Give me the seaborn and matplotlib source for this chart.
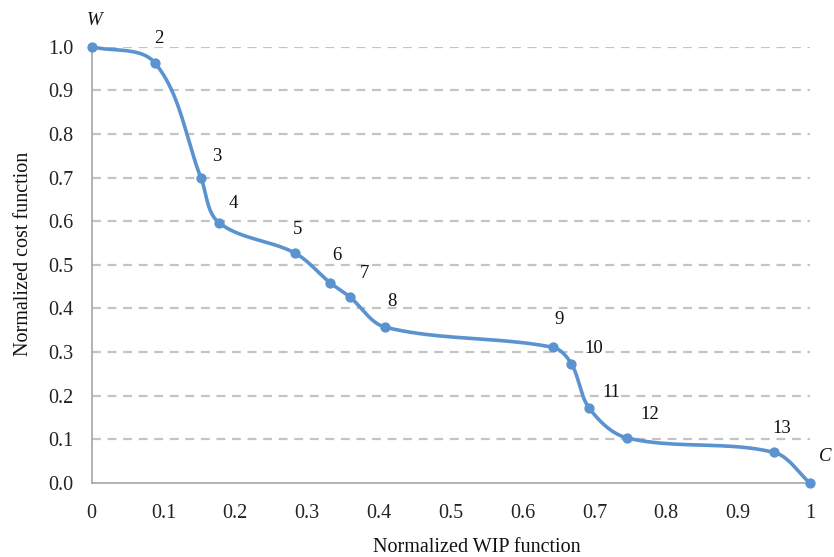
import numpy as np
import pandas as pd
import matplotlib
matplotlib.use("Agg")
import matplotlib.pyplot as plt
import seaborn as sns

# data
wip = [0.0, 0.088, 0.152, 0.177, 0.283, 0.332, 0.359, 0.409, 0.642, 0.668, 0.693, 0.746, 0.950, 1.0]
cost = [1.0, 0.963, 0.700, 0.597, 0.527, 0.459, 0.427, 0.357, 0.311, 0.273, 0.171, 0.103, 0.070, 0.0]
labels = ["W", "2", "3", "4", "5", "6", "7", "8", "9", "10", "11", "12", "13", "C"]
label_dx = [3, 4, 16, 14, 3, 7, 15, 7, 6, 22, 22, 22, 8, 15]
label_dy = [-26, -24, -21, -19, -24, -27, -23, -26, -28, -15, -16, -23, -24, -26]
x_ticks = [0, 0.1, 0.2, 0.3, 0.4, 0.5, 0.6, 0.7, 0.8, 0.9, 1]
x_ticklabels = ["0", "0.1", "0.2", "0.3", "0.4", "0.5", "0.6", "0.7", "0.8", "0.9", "1"]
y_ticks = [0.0, 0.1, 0.2, 0.3, 0.4, 0.5, 0.6, 0.7, 0.8, 0.9, 1.0]
y_ticklabels = ["0.0", "0.1", "0.2", "0.3", "0.4", "0.5", "0.6", "0.7", "0.8", "0.9", "1.0"]

sns.set_theme(style="white")
plt.rcParams["font.family"] = ["Liberation Serif", "DejaVu Serif"]

color = "#5b93d0"

# smoothed line through the points (bezier, tangent length scaled by segment length)
def smooth(xs, ys, sx=718.0, sy=436.0, k=0.33, n=40):
    P = np.column_stack([np.asarray(xs) * sx, np.asarray(ys) * sy])
    Pe = np.vstack([P[0], P, P[-1]])
    out = []
    for i in range(1, len(Pe) - 2):
        p0, p1, p2, p3 = Pe[i - 1], Pe[i], Pe[i + 1], Pe[i + 2]
        L = np.linalg.norm(p2 - p1)
        d1 = p2 - p0
        d2 = p3 - p1
        d1 = d1 / (np.linalg.norm(d1) or 1)
        d2 = d2 / (np.linalg.norm(d2) or 1)
        c1 = p1 + d1 * L * k
        c2 = p2 - d2 * L * k
        t = np.linspace(0, 1, n)[:, None]
        seg = ((1 - t) ** 3) * p1 + 3 * ((1 - t) ** 2) * t * c1 + 3 * (1 - t) * t ** 2 * c2 + t ** 3 * p2
        out.append(seg if i == 1 else seg[1:])
    C = np.vstack(out)
    return C[:, 0] / sx, C[:, 1] / sy

cx, cy = smooth(wip, cost)
curve_df = pd.DataFrame({"x": cx, "y": cy})
pts_df = pd.DataFrame({"x": wip, "y": cost, "label": labels})

fig = plt.figure(figsize=(8.34, 5.57), dpi=100)
ax = fig.add_axes([0.110, 0.133, 0.861, 0.783])

for yv in y_ticks[1:]:
    ax.axhline(yv, color="#c4c4c4", lw=1.6, ls=(0, (4, 3)), zorder=0)

sns.lineplot(data=curve_df, x="x", y="y", sort=False, estimator=None, color=color,
             lw=2.6, ax=ax, clip_on=False, zorder=3)
sns.scatterplot(data=pts_df, x="x", y="y", color=color, s=55, edgecolor=color,
                linewidth=0, ax=ax, clip_on=False, zorder=4)

for lx, ly, lab, dx, dy in zip(wip, cost, labels, label_dx, label_dy):
    style = "italic" if lab in ("W", "C") else "normal"
    ax.annotate(lab, (lx, ly), xytext=(dx, -dy), textcoords="offset pixels",
                ha="center", va="center", fontsize=13.5, fontstyle=style, color="#111111")

ax.set_xlim(0, 1)
ax.set_ylim(0, 1)
ax.set_xticks(x_ticks)
ax.set_xticklabels(x_ticklabels)
ax.set_yticks(y_ticks)
ax.set_yticklabels(y_ticklabels)
ax.tick_params(axis="both", length=0, labelsize=14.5, labelcolor="#222222")
ax.tick_params(axis="x", pad=15)
ax.tick_params(axis="y", pad=13)
for s in ["top", "right"]:
    ax.spines[s].set_visible(False)
for s in ["left", "bottom"]:
    ax.spines[s].set_color("#a6a6a6")
    ax.spines[s].set_linewidth(1.2)
ax.grid(False)
ax.set_xlabel("Normalized WIP function", fontsize=14.5, color="#111111", labelpad=11)
ax.set_ylabel("Normalized cost function", fontsize=14.5, color="#111111", labelpad=11)
ax.xaxis.label.set_x(0.536)
ax.yaxis.label.set_y(0.525)

fig.savefig("out.png", dpi=100)
